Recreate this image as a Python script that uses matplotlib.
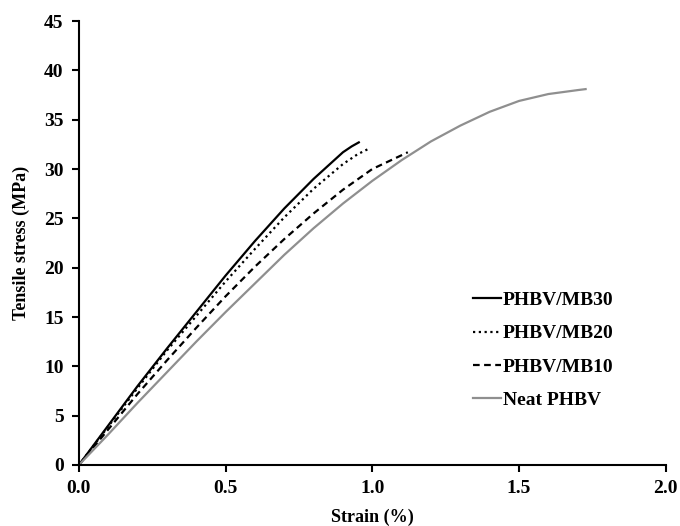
import matplotlib

matplotlib.use("Agg")
import matplotlib.pyplot as plt

# strain (%) / tensile stress (MPa)
mb30_strain = [0, 0.1, 0.2, 0.3, 0.4, 0.5, 0.6, 0.7, 0.8, 0.9, 0.93, 0.954]
mb30_stress = [0, 4.0, 8.0, 11.8, 15.5, 19.2, 22.7, 26.0, 29.0, 31.7, 32.3, 32.7]

mb20_strain = [0, 0.1, 0.2, 0.3, 0.4, 0.5, 0.6, 0.7, 0.8, 0.9, 0.95, 0.991]
mb20_stress = [0, 3.9, 7.8, 11.6, 15.1, 18.6, 21.9, 25.1, 28.0, 30.5, 31.5, 32.1]

mb10_strain = [0, 0.1, 0.2, 0.3, 0.4, 0.5, 0.6, 0.7, 0.8, 0.9, 1.0, 1.1, 1.121]
mb10_stress = [0, 3.6, 7.2, 10.6, 13.9, 17.1, 20.1, 22.9, 25.5, 27.9, 30.0, 31.4, 31.7]

neat_strain = [0, 0.1, 0.2, 0.3, 0.4, 0.5, 0.6, 0.7, 0.8, 0.9, 1.0, 1.1, 1.2,
               1.3, 1.4, 1.5, 1.6, 1.7, 1.727]
neat_stress = [0, 3.1, 6.3, 9.4, 12.5, 15.5, 18.4, 21.3, 24.0, 26.5, 28.8, 30.9,
               32.8, 34.4, 35.8, 36.9, 37.6, 38.0, 38.1]

labels = ["PHBV/MB30", "PHBV/MB20", "PHBV/MB10", "Neat PHBV"]
x_ticks = [0.0, 0.5, 1.0, 1.5, 2.0]
y_ticks = [0, 5, 10, 15, 20, 25, 30, 35, 40, 45]

plt.rcParams.update(
    {
        "font.family": ["Liberation Serif", "DejaVu Serif"],
        "font.weight": "bold",
        "font.size": 14,
    }
)

fig = plt.figure(figsize=(6.8, 5.26), dpi=100)
ax = fig.add_axes([0.116, 0.116, 0.863, 0.844])

ax.plot(mb30_strain, mb30_stress, color="black", lw=1.6, label=labels[0])
ax.plot(mb20_strain, mb20_stress, color="black", lw=1.6, linestyle=(0, (1, 1.6)), label=labels[1])
ax.plot(mb10_strain, mb10_stress, color="black", lw=1.6, linestyle=(0, (3, 2)), label=labels[2])
ax.plot(neat_strain, neat_stress, color="#8f8f8f", lw=1.6, label=labels[3])

ax.set_xlim(0, 2.0)
ax.set_ylim(0, 45)
ax.set_xticks(x_ticks)
ax.set_xticklabels([f"{t:.1f}" for t in x_ticks])
ax.set_yticks(y_ticks)
ax.spines["top"].set_visible(False)
ax.spines["right"].set_visible(False)
for side in ("left", "bottom"):
    ax.spines[side].set_linewidth(1.5)
ax.tick_params(direction="out", length=5, width=1.5, pad=6, labelsize=14)

ax.set_xlabel("Strain (%)", fontsize=13, fontweight="bold", labelpad=8)
ax.set_ylabel("Tensile stress (MPa)", fontsize=13, fontweight="bold", labelpad=10)

ax.legend(
    loc="upper left",
    bbox_to_anchor=(0.641, 0.43),
    frameon=False,
    handlelength=1.45,
    handletextpad=0.1,
    labelspacing=0.8,
    prop={"family": "Liberation Serif", "weight": "bold", "size": 14},
)

fig.savefig("out.png", dpi=100, facecolor="white")
